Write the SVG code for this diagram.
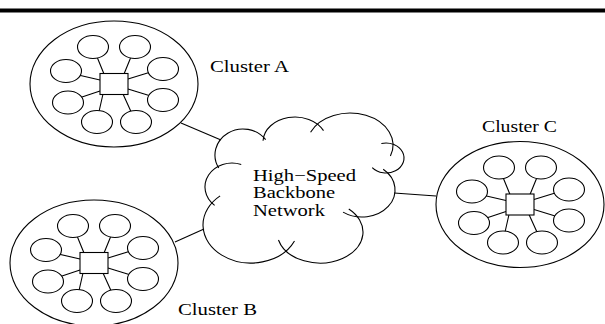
<svg xmlns="http://www.w3.org/2000/svg" xmlns:xlink="http://www.w3.org/1999/xlink" width="605" height="324" viewBox="0 0 605 324">
<style>
.ln{stroke:#000;stroke-width:1.1;fill:none}
.wf{stroke:#000;stroke-width:1.1;fill:#fff}
.lbl{font-family:"Liberation Serif","Times New Roman",serif;font-size:16.5px;fill:#000}
.cl{font-size:16px}
</style>
<defs>
<g id="cluster-tpl">
<ellipse class="ln" cx="0" cy="0" rx="84" ry="63"/>
<path class="ln" d="M-10,-10L-19,-32M10,-10L19,-32M-14,-4L-40,-10M14,-5L40,-13M-14,7L-38,15M14,5L40,13M-11,10L-16,32M9,10L19,32"/>
<rect class="wf" x="-14" y="-10.5" width="28" height="21"/>
<ellipse class="wf" cx="-21" cy="-37" rx="15.5" ry="11.5"/>
<ellipse class="wf" cx="21" cy="-37" rx="15.5" ry="11.5"/>
<ellipse class="wf" cx="-48" cy="-13" rx="15.5" ry="11.5"/>
<ellipse class="wf" cx="49" cy="-15" rx="15.5" ry="11.5"/>
<ellipse class="wf" cx="-46" cy="18.5" rx="15.5" ry="11.5"/>
<ellipse class="wf" cx="49" cy="16" rx="15.5" ry="11.5"/>
<ellipse class="wf" cx="-17" cy="38" rx="15.5" ry="11.5"/>
<ellipse class="wf" cx="22" cy="38" rx="15.5" ry="11.5"/>
</g>
</defs>
<rect x="0" y="8.5" width="605" height="4" fill="#000"/>
<g id="connectors">
<line class="ln" x1="181" y1="123" x2="221" y2="140"/>
<line class="ln" x1="175" y1="242" x2="204" y2="229"/>
<line class="ln" x1="394" y1="193" x2="436" y2="196"/>
</g>
<g id="cluster-a">
<use xlink:href="#cluster-tpl" transform="translate(114,84)"/>
<text class="lbl" x="210" y="72" textLength="79" lengthAdjust="spacingAndGlyphs">Cluster A</text>
</g>
<g id="cluster-b">
<use xlink:href="#cluster-tpl" transform="translate(94,263)"/>
<text class="lbl" x="178" y="314.5" textLength="79" lengthAdjust="spacingAndGlyphs">Cluster B</text>
</g>
<g id="cluster-c">
<use xlink:href="#cluster-tpl" transform="translate(520,204.5)"/>
<text class="lbl" x="482" y="131.5" textLength="75" lengthAdjust="spacingAndGlyphs">Cluster C</text>
</g>
<g id="backbone">
<path class="ln" d="M218.75,168 A28,26 0 0 1 265.65,139.71"/>
<path class="ln" d="M263.04,140.69 A32,25 0 0 1 323.51,130.65"/>
<path class="ln" d="M310.57,132.24 A43,32 0 0 1 390.41,155.94"/>
<path class="ln" d="M381.34,143.51 A18,15 0 1 1 372.21,167.64"/>
<path class="ln" d="M383.22,169.32 A33,27 0 0 1 343.07,212.12"/>
<path class="ln" d="M348.77,208.97 A43,31 0 1 1 278.46,240.02"/>
<path class="ln" d="M294.5,241.06 A48,38 0 1 1 220.14,195.89"/>
<path class="ln" d="M241.23,164.44 A27,24 0 0 0 214.64,205.38"/>
<text class="lbl cl" x="253" y="180.5" textLength="103" lengthAdjust="spacingAndGlyphs">High−Speed</text>
<text class="lbl cl" x="253" y="198" textLength="82" lengthAdjust="spacingAndGlyphs">Backbone</text>
<text class="lbl cl" x="253" y="215.5" textLength="72" lengthAdjust="spacingAndGlyphs">Network</text>
</g>
</svg>
